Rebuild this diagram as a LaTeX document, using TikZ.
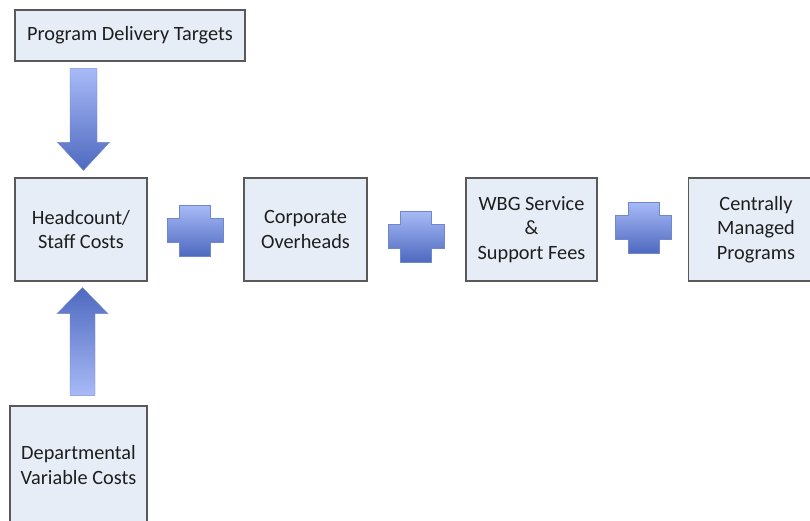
\documentclass[tikz,border=0pt]{standalone}
\usepackage{fontspec}
\setmainfont{Carlito}
\usetikzlibrary{calc,shadows}

\definecolor{boxfill}{HTML}{E7EDF7}
\definecolor{boxline}{HTML}{595959}
\definecolor{arrowlight}{HTML}{A8BAF7}
\definecolor{arrowdark}{HTML}{4E69BF}
\definecolor{textgray}{HTML}{1E1E1E}

\tikzset{
  costbox/.style={draw=boxline, line width=1.3pt, fill=boxfill, text=textgray,
    align=center, font=\fontsize{20.3}{24.5}\selectfont, inner sep=0pt,
    drop shadow={shadow xshift=1.2pt, shadow yshift=-1.2pt, opacity=0.35}},
  blockarrow/.style={draw=arrowdark!80, line width=0.4pt}
}

% plus sign centred at #1
\newcommand{\plusblock}[1]{%
  \shade[blockarrow, top color=arrowlight, bottom color=arrowdark]
    ($#1+(-15.5,-25.5)$) -- ($#1+(15.5,-25.5)$) -- ($#1+(15.5,-12)$)
    -- ($#1+(28,-12)$) -- ($#1+(28,12)$) -- ($#1+(15.5,12)$)
    -- ($#1+(15.5,25.5)$) -- ($#1+(-15.5,25.5)$) -- ($#1+(-15.5,12)$)
    -- ($#1+(-28,12)$) -- ($#1+(-28,-12)$) -- ($#1+(-15.5,-12)$) -- cycle;}

\begin{document}
\begin{tikzpicture}[x=1pt, y=-1pt]
      \useasboundingbox (0,0) rectangle (810,520);

      % the cost boxes
      \node[costbox, minimum width=230pt, minimum height=51pt] (targets) at (130,35.5) {Program Delivery Targets};
      \node[costbox, minimum width=132pt, minimum height=103pt] (staff) at (81,229.5) {Headcount/\\Staff Costs};
      \node[costbox, minimum width=137pt, minimum height=118pt] (variable) at (78.5,465) {Departmental\\Variable Costs};
      \node[costbox, minimum width=123pt, minimum height=103pt] (overheads) at (305.5,229.5) {Corporate\\Overheads};
      \node[costbox, minimum width=131pt, minimum height=103pt] (fees) at (531.5,229.5) {WBG Service\\\&\\Support Fees};
      \node[costbox, minimum width=135pt, minimum height=103pt] (central) at (756,229.5) {Centrally\\Managed\\Programs};

      % targets feed into staff costs
      \coordinate (downtip) at ($(staff.north)+(2.5,-7)$);
      \shade[blockarrow, top color=arrowlight, bottom color=arrowdark]
        ($(targets.south -| downtip)+(-13.5,7)$) -- ($(targets.south -| downtip)+(13.5,7)$)
        -- ($(downtip)+(13.5,-28)$) -- ($(downtip)+(26,-28)$)
        -- (downtip) -- ($(downtip)+(-26,-28)$)
        -- ($(downtip)+(-13.5,-28)$) -- cycle;

      % variable costs feed up into staff costs
      \coordinate (uptip) at ($(staff.south)+(1.5,6)$);
      \shade[blockarrow, top color=arrowdark, bottom color=arrowlight]
        ($(variable.north -| uptip)+(-12.5,-10)$) -- ($(variable.north -| uptip)+(12.5,-10)$)
        -- ($(uptip)+(12.5,26)$) -- ($(uptip)+(25.5,26)$)
        -- (uptip) -- ($(uptip)+(-25.5,26)$)
        -- ($(uptip)+(-12.5,26)$) -- cycle;

      % plus signs between the boxes
      \plusblock{(195,230.5)}
      \plusblock{(416,236.5)}
      \plusblock{(643.5,227.5)}
\end{tikzpicture}
\end{document}
